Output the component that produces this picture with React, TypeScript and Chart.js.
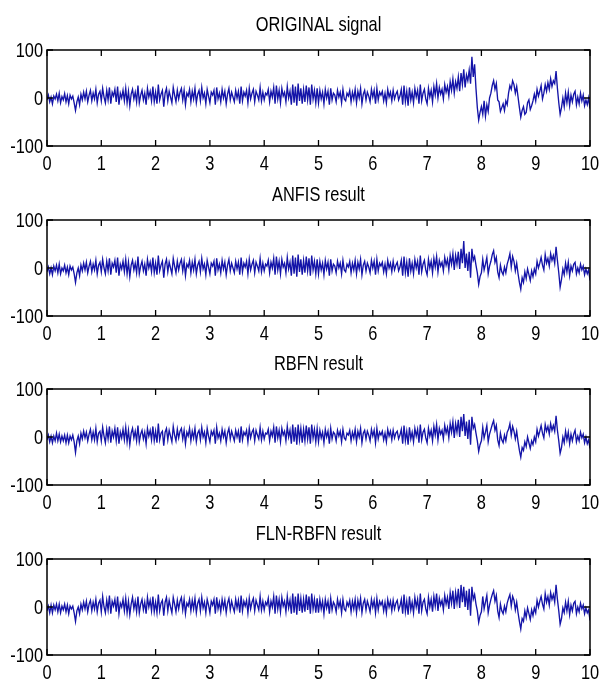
import React, { useEffect, useRef } from "react";
import { Chart, registerables } from "chart.js";

Chart.register(...registerables);

// sample spacing of the signals (time axis, 0..10)
const SAMPLE_STEP = 0.025;
const X_TICKS = [0, 1, 2, 3, 4, 5, 6, 7, 8, 9, 10];
const Y_TICKS = [-100, 0, 100];
const TITLES = ["ORIGINAL signal", "ANFIS result", "RBFN result", "FLN-RBFN result"];

const ORIGINAL = [
  -4, 6, -8, 2, -12, 4, -2, 8, -6, 10, -10, 3, -4, 9, -8, 5, -12, 6, -2, 4,
  -10, -26, -8, 2, -14, 8, -4, 12, -2, 14, -8, 6, 16, -6, 10, -2, 18, -10, 8, 14,
  -6, 20, 2, -10, 16, -4, 22, -12, 12, 4, 18, -8, 24, -14, 10, 0, 16, -6, 20, -10,
  14, -16, 8, 18, -2, 12, -8, 26, -10, 6, 16, -4, 10, -14, 20, 2, 14, -6, 24, -8,
  12, -12, 28, -4, 8, 16, -18, 10, 20, -6, 14, 2, -10, 22, 6, -8, 16, -2, 12, 20,
  -4, 16, -14, 10, 4, 18, -8, 14, -2, 20, -10, 8, 16, -6, 22, 0, 10, -12, 18, 4,
  -10, 12, 6, 16, -14, 22, -2, 10, -8, 18, 0, 14, -12, 8, 20, -4, 12, 2, -8, 16,
  0, 14, -12, 24, -6, 12, 4, 16, -10, 20, -2, 10, 18, -8, 14, 6, -4, 22, -6, 12,
  -4, 10, 6, 18, -8, 14, 2, 22, -12, 26, -2, 16, -10, 20, 4, 12, -8, 24, 0, 14,
  -14, 28, -10, 24, -16, 30, -6, 20, -12, 18, -8, 26, -4, 22, -14, 28, -2, 16, -10, 20,
  -10, 16, -2, 12, -12, 18, 0, 14, -14, 20, -4, 10, 6, -8, 16, 2, 12, -10, 18, -2,
  -6, 10, 4, 16, -8, 12, -2, 18, -10, 14, 0, 20, -12, 8, 16, -4, 12, 4, -8, 18,
  2, 16, -12, 20, -4, 12, 6, 14, -6, 10, -10, 18, 2, 12, -6, 16, -2, 8, 14, -4,
  4, 18, -14, 26, -8, 14, -16, 22, -4, 12, -10, 20, 2, 16, -12, 28, -6, 10, 18, -2,
  -12, 20, 2, 16, -8, 24, 6, 30, 0, 22, 8, 18, -2, 28, 12, 24, 4, 34, 16, 40,
  10, 34, 20, 44, 14, 52, 28, 60, 22, 48, 36, 58, 30, 86, 44, 70, 20, -20, -46, -30,
  -18, -34, -6, -38, -14, -28, 0, 10, 26, 36, 18, 30, -4, -8, -28, -20, -12, -26, -6, -14,
  10, 26, 18, 36, 28, 10, 24, 2, -20, -40, -26, -18, -34, -30, -10, -4, -24, -16, -6, 8,
  -6, 18, 4, 14, 26, -2, 10, 28, 14, 32, 18, 40, 24, 36, 30, 56, 20, -10, -34, -20,
  0, -18, 10, -10, 12, -16, 6, -8, 8, 14, -14, 2, -12, 10, -6, 6, -16, -4, -14, 0,
  -22,
];

const ANFIS = [
  -8, 2, -12, 0, -14, 4, -6, 6, -10, 8, -12, 0, -6, 6, -10, 2, -14, 4, -4, 2,
  -12, -30, -10, 0, -16, 6, -6, 10, -4, 12, -10, 4, 14, -8, 8, -4, 16, -12, 6, 12,
  -8, 18, 0, -12, 14, -6, 20, -14, 10, 2, 16, -10, 22, -16, 8, -2, 14, -8, 18, -12,
  12, -18, 6, 16, -4, 10, -10, 24, -12, 4, 14, -6, 8, -16, 18, 0, 12, -8, 22, -10,
  10, -14, 26, -6, 6, 14, -20, 8, 18, -8, 12, 0, -12, 20, 4, -10, 14, -4, 10, 18,
  -6, 14, -16, 8, 2, 16, -10, 12, -4, 18, -12, 6, 14, -8, 20, -2, 8, -14, 16, 2,
  -12, 10, 4, 14, -16, 20, -4, 8, -10, 16, -2, 12, -14, 6, 18, -6, 10, 0, -10, 14,
  -2, 12, -14, 22, -8, 10, 2, 14, -12, 18, -4, 8, 16, -10, 12, 4, -6, 20, -8, 10,
  -6, 8, 4, 16, -10, 12, 0, 20, -14, 24, -4, 14, -12, 18, 2, 10, -10, 22, -2, 12,
  -16, 26, -12, 22, -18, 28, -8, 18, -14, 16, -10, 24, -6, 20, -16, 26, -4, 14, -12, 18,
  -12, 14, -4, 10, -14, 16, -2, 12, -16, 18, -6, 8, 4, -10, 14, 0, 10, -12, 16, -4,
  -8, 8, 2, 14, -10, 10, -4, 16, -12, 12, -2, 18, -14, 6, 14, -6, 10, 2, -10, 16,
  0, 14, -14, 18, -6, 10, 4, 12, -8, 8, -12, 16, 0, 10, -8, 14, -4, 6, 12, -6,
  2, 16, -16, 24, -10, 12, -18, 20, -6, 10, -12, 18, 0, 14, -14, 26, -8, 8, 16, -4,
  -14, 18, 0, 14, -10, 20, 2, 24, -8, 16, 4, 12, -6, 22, 6, 18, -4, 26, 8, 30,
  -4, 26, 8, 34, -2, 40, 10, 56, 0, 30, -6, 34, -20, 40, 16, 24, 6, -10, -34, -18,
  -10, 18, -4, 8, 22, -12, 4, 14, 28, 36, 12, 22, -8, -20, 6, -8, -14, 2, -10, 8,
  18, 30, 2, 24, 14, -6, 10, -12, -30, -44, -20, -30, -8, -22, -2, -14, -26, -6, -18, -2,
  -12, 14, 0, 10, 22, 6, -4, 28, 10, 20, 4, 30, 16, 26, 10, 44, 16, -10, -40, -24,
  -2, -14, 10, -8, 12, -16, 4, -6, 8, 12, -12, 0, -10, 8, -4, 4, -14, -2, -12, -4,
  -26,
];

const RBFN = [
  -6, 4, -10, 2, -12, 2, -8, 8, -8, 6, -10, 2, -8, 4, -12, 4, -12, 2, -6, 4,
  -10, -32, -8, 2, -14, 8, -4, 12, -2, 10, -8, 6, 16, -6, 10, -6, 18, -10, 8, 12,
  -8, 20, 2, -12, 16, -4, 22, -12, 12, 0, 18, -8, 20, -14, 10, -2, 16, -6, 20, -10,
  14, -16, 8, 18, -2, 12, -8, 24, -10, 6, 14, -4, 10, -14, 18, 2, 14, -6, 22, -8,
  12, -12, 28, -6, 8, 12, -18, 10, 18, -6, 14, 2, -10, 22, 4, -8, 16, -2, 12, 18,
  -4, 14, -14, 10, 2, 18, -8, 12, -2, 18, -10, 8, 14, -6, 20, 0, 10, -12, 18, 2,
  -10, 12, 4, 14, -14, 20, -2, 8, -8, 16, 0, 12, -12, 8, 18, -4, 12, 2, -8, 14,
  0, 12, -12, 22, -6, 10, 4, 14, -10, 18, -2, 10, 16, -8, 14, 4, -4, 20, -6, 12,
  -4, 8, 6, 16, -8, 12, 2, 20, -12, 22, -2, 14, -10, 18, 4, 12, -8, 22, 0, 14,
  -14, 26, -10, 20, -16, 26, -6, 18, -12, 16, -8, 24, -4, 20, -14, 26, -2, 16, -10, 18,
  -10, 14, -2, 10, -12, 16, 0, 12, -14, 18, -4, 10, 6, -8, 14, 2, 12, -10, 16, -2,
  -6, 8, 4, 14, -8, 10, -2, 16, -10, 12, 0, 18, -12, 8, 14, -4, 12, 4, -8, 16,
  2, 14, -12, 18, -4, 10, 4, 12, -6, 8, -10, 16, 2, 12, -6, 14, -2, 8, 12, -4,
  4, 16, -14, 24, -8, 12, -16, 20, -4, 10, -10, 18, 2, 16, -12, 26, -6, 10, 16, -2,
  -12, 18, 2, 14, -8, 22, 4, 26, -6, 18, 6, 14, -4, 24, 8, 20, -2, 28, 10, 32,
  -2, 28, 10, 36, 0, 42, 12, 48, 2, 32, -4, 36, -16, 42, 18, 26, 8, -8, -30, -16,
  -8, 20, -2, 10, 24, -10, 6, 16, 26, 34, 14, 24, -6, -18, 8, -6, -12, 4, -8, 10,
  16, 28, 4, 22, 12, -4, 12, -10, -28, -42, -22, -28, -10, -20, 0, -12, -24, -8, -16, 0,
  -10, 16, 2, 12, 24, 8, -2, 26, 12, 22, 6, 28, 14, 24, 12, 44, 14, -8, -34, -22,
  0, -12, 12, -6, 10, -14, 6, -8, 6, 14, -10, 2, -8, 10, -2, 6, -12, 0, -14, -6,
  -24,
];

const FLN_RBFN = [
  -8, 2, -12, 4, -12, 4, -6, 6, -10, 6, -12, 2, -6, 6, -10, 4, -14, 2, -4, 2,
  -12, -30, -8, 0, -14, 6, -6, 10, -4, 12, -10, 6, 14, -8, 10, -4, 16, -10, 8, 14,
  -10, 22, 0, -12, 14, -6, 24, -14, 12, 2, 16, -10, 22, -14, 8, 0, 16, -8, 18, -12,
  12, -16, 6, 20, -4, 12, -10, 22, -12, 6, 16, -6, 10, -14, 20, 0, 14, -8, 22, -10,
  10, -12, 26, -8, 8, 14, -18, 10, 20, -8, 14, 0, -12, 20, 6, -10, 14, -4, 12, 20,
  -6, 16, -14, 8, 2, 16, -8, 14, -4, 18, -12, 8, 16, -8, 20, -2, 10, -12, 16, 4,
  -12, 12, 4, 16, -14, 20, -4, 10, -10, 16, -2, 14, -12, 8, 18, -6, 12, 0, -10, 16,
  -2, 14, -12, 24, -8, 12, 2, 14, -12, 18, -4, 10, 18, -8, 14, 4, -6, 22, -6, 12,
  -6, 10, 4, 18, -10, 12, 0, 22, -14, 24, -4, 16, -10, 20, 2, 12, -10, 22, -2, 14,
  -14, 28, -12, 22, -16, 28, -8, 18, -12, 16, -10, 26, -6, 22, -14, 28, -4, 16, -12, 18,
  -12, 16, -4, 12, -14, 16, -2, 12, -14, 18, -6, 10, 4, -10, 16, 0, 12, -12, 16, -4,
  -8, 10, 2, 14, -10, 12, -4, 16, -12, 14, -2, 18, -12, 8, 16, -6, 12, 2, -10, 16,
  0, 14, -12, 18, -6, 12, 4, 12, -8, 10, -12, 16, 0, 12, -8, 14, -4, 8, 14, -6,
  2, 16, -14, 26, -10, 12, -16, 22, -6, 10, -12, 20, 0, 16, -14, 28, -8, 10, 16, -4,
  -14, 20, 0, 16, -10, 22, 2, 28, -8, 18, 4, 14, -6, 24, 6, 20, -4, 30, 8, 34,
  -4, 30, 8, 38, -2, 46, 10, 42, 0, 34, -6, 38, -18, 42, 16, 26, 6, -8, -32, -18,
  -10, 22, -4, 10, 24, -12, 4, 16, 26, 34, 12, 24, -8, -22, 6, -8, -14, 2, -10, 8,
  18, 26, 2, 22, 14, -6, 10, -12, -30, -46, -24, -30, -8, -22, -2, -14, -26, -6, -18, -2,
  -12, 14, 0, 12, 22, 6, -4, 28, 10, 22, 4, 30, 16, 26, 10, 46, 16, -8, -36, -24,
  -2, -12, 10, -8, 12, -16, 4, -8, 8, 12, -14, 0, -10, 8, -4, 4, -14, -2, -12, -6,
  -28,
];

const SERIES = [ORIGINAL, ANFIS, RBFN, FLN_RBFN];

const FONT_FAMILY = "'Liberation Sans', Arial, Helvetica, sans-serif";
const FONT_SIZE = 21;
const NARROW = 0.78; // the reference's lettering is horizontally condensed
const LINE_COLOR = "#1414a8";

function drawNarrowText(
  ctx: CanvasRenderingContext2D,
  text: string,
  x: number,
  y: number,
  align: CanvasTextAlign,
  baseline: CanvasTextBaseline
) {
  ctx.save();
  ctx.translate(x, y);
  ctx.scale(NARROW, 1);
  ctx.font = `${FONT_SIZE}px ${FONT_FAMILY}`;
  ctx.fillStyle = "#000";
  ctx.textAlign = align;
  ctx.textBaseline = baseline;
  ctx.fillText(text, 0, 0);
  ctx.restore();
}

const framePlugin = {
  id: "frame",
  afterDraw(chart: any, _args: any, opts: any) {
    const { ctx, chartArea: a, scales } = chart;
    ctx.save();
    ctx.strokeStyle = "#000";
    ctx.lineWidth = 1.5;
    ctx.strokeRect(a.left, a.top, a.right - a.left, a.bottom - a.top);
    ctx.lineWidth = 1.3;
    ctx.beginPath();
    const tl = 6;
    for (const t of scales.x.ticks) {
      const px = scales.x.getPixelForValue(t.value);
      ctx.moveTo(px, a.top);
      ctx.lineTo(px, a.top + tl);
      ctx.moveTo(px, a.bottom);
      ctx.lineTo(px, a.bottom - tl);
    }
    for (const t of scales.y.ticks) {
      const py = scales.y.getPixelForValue(t.value);
      ctx.moveTo(a.left, py);
      ctx.lineTo(a.left + tl, py);
      ctx.moveTo(a.right, py);
      ctx.lineTo(a.right - tl, py);
    }
    ctx.stroke();
    ctx.restore();

    // tick labels from the library's scales
    for (const t of scales.x.ticks) {
      const px = scales.x.getPixelForValue(t.value);
      drawNarrowText(ctx, String(t.value), px, a.bottom + 24, "center", "alphabetic");
    }
    for (const t of scales.y.ticks) {
      const py = scales.y.getPixelForValue(t.value);
      drawNarrowText(ctx, String(t.value), a.left - 4, py + 1, "right", "middle");
    }
    // title
    drawNarrowText(ctx, opts.text, (a.left + a.right) / 2, 31, "center", "alphabetic");
  },
};

function Panel({ index, top, height }: { index: number; top: number; height: number }) {
  const ref = useRef<HTMLCanvasElement | null>(null);
  useEffect(() => {
    if (!ref.current) return;
    const values = SERIES[index];
    const points = values.map((v, i) => ({ x: i * SAMPLE_STEP, y: v }));
    const xHeight = height - 146;
    const chart = new Chart(ref.current, {
      type: "line",
      data: {
        datasets: [
          {
            data: points,
            borderColor: LINE_COLOR,
            borderWidth: 1.35,
            pointRadius: 0,
            tension: 0,
            fill: false,
          },
        ],
      },
      options: {
        animation: false,
        responsive: false,
        devicePixelRatio: 1,
        layout: { padding: { top: 50, right: 10, left: 0, bottom: 0 } },
        plugins: {
          legend: { display: false },
          tooltip: { enabled: false },
          title: { display: false },
          frame: { text: TITLES[index] },
        } as any,
        scales: {
          x: {
            type: "linear",
            min: 0,
            max: 10,
            grid: { display: false, drawTicks: false },
            border: { display: false },
            ticks: { stepSize: 1, display: false, autoSkip: false },
            afterFit: (s: any) => {
              s.height = xHeight;
            },
          },
          y: {
            type: "linear",
            min: -100,
            max: 100,
            grid: { display: false, drawTicks: false },
            border: { display: false },
            ticks: { stepSize: 100, display: false },
            afterFit: (s: any) => {
              s.width = 47;
            },
          },
        },
      },
      plugins: [framePlugin as any],
    });
    return () => chart.destroy();
  }, [index, height]);
  return (
    <canvas
      ref={ref}
      width={600}
      height={height}
      style={{ position: "absolute", left: 0, top, width: 600, height }}
    />
  );
}

const PANEL_TOPS = [0, 170, 339, 509];
const PANEL_HEIGHTS = [170, 170, 170, 176];

export default function App() {
  return (
    <div
      style={{
        position: "absolute",
        left: 0,
        top: 0,
        width: 600,
        height: 685,
        background: "#fff",
        overflow: "hidden",
      }}
    >
      {PANEL_TOPS.map((t, i) => (
        <Panel key={i} index={i} top={t} height={PANEL_HEIGHTS[i]} />
      ))}
    </div>
  );
}
